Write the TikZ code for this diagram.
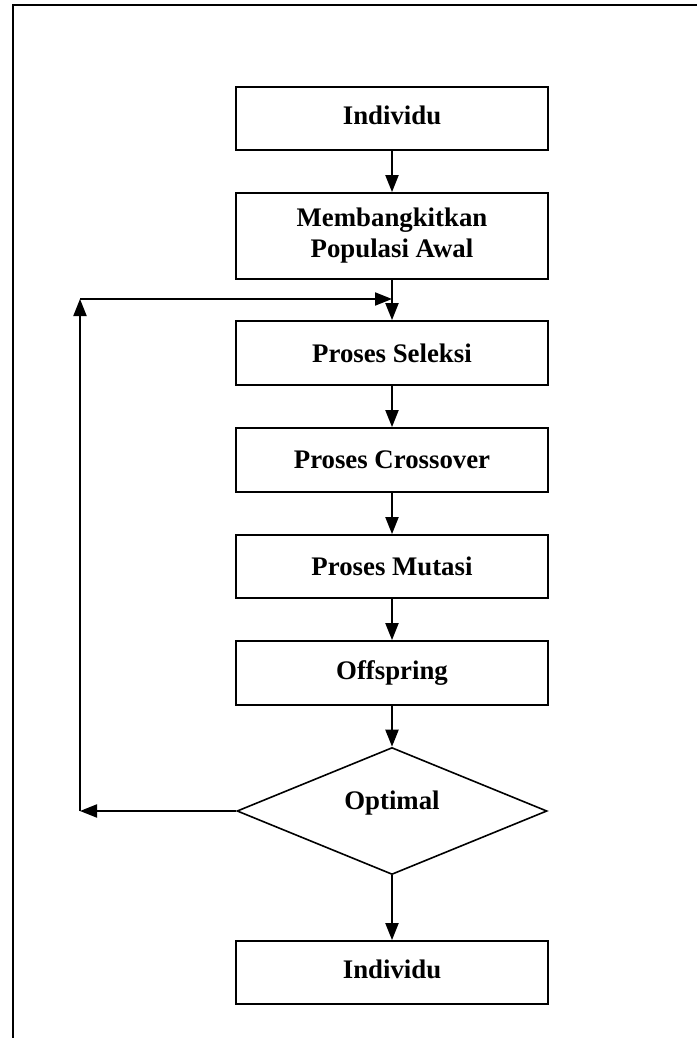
\documentclass[tikz,border=0pt]{standalone}
\usepackage{fontspec}
\setmainfont{Liberation Serif}
\usetikzlibrary{shapes.geometric,arrows.meta}
\begin{document}
\begin{tikzpicture}[x=1pt,y=-1pt,
  every node/.style={font=\bfseries\fontsize{26.8}{31}\selectfont, align=center},
  procbox/.style={draw, line width=1.8pt, minimum width=312pt, inner sep=0pt},
  decision/.style={draw, shape=diamond, line width=1.6pt, minimum width=310pt, minimum height=127pt, inner sep=0pt},
  arr/.style={line width=2pt, -{Triangle[length=17pt,width=13pt]}}]
\useasboundingbox (0,0) rectangle (696,1038);
% outer frame (top and left edges)
\draw[line width=2pt] (698,5) -- (13,5) -- (13,1040);

% process chain
\node[procbox, minimum height=63pt] (ind1) at (392,118.5) {Individu\strut};
\node[procbox, minimum height=86pt] (pop)  at (392,236) {Membangkitkan\\Populasi Awal};
\node[procbox, minimum height=64pt] (sel)  at (392,353) {Proses Seleksi};
\node[procbox, minimum height=64pt] (cro)  at (392,460) {Proses Crossover};
\node[procbox, minimum height=63pt] (mut)  at (392,566.5) {Proses Mutasi};
\node[procbox, minimum height=64pt] (off)  at (392,673) {Offspring};
\node[decision] (opt) at (392,811) {};
\node at (392,803) (optlbl) {Optimal};
\node[procbox, minimum height=63pt] (ind2) at (392,972.5) {Individu\strut};

% loop-back route
\coordinate (lb) at (80,811);
\coordinate (lt) at (80,299);
\coordinate (mt) at (392,299);

\draw[arr] (ind1) -- (pop);
\draw[arr] (pop) -- (sel);
\draw[arr] (sel) -- (cro);
\draw[arr] (cro) -- (mut);
\draw[arr] (mut) -- (off);
\draw[arr] (off) -- (opt.north);
\draw[arr] (opt.south) -- (ind2);

\draw[arr] (opt.west) -- (lb);
\draw[arr] (lb) -- (lt);
\draw[arr] (lt) -- (mt);
\end{tikzpicture}
\end{document}
